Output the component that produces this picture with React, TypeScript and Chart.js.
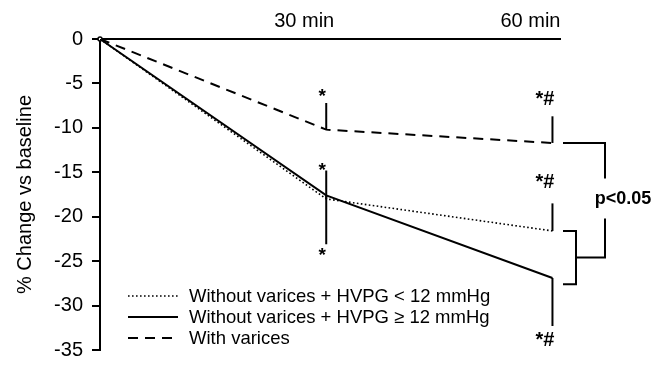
import { useEffect, useRef } from 'react';
import { Chart, registerables } from 'chart.js';

Chart.register(...registerables);

// ---- data ----
const timePoints = [0, 30, 60];
const xTickValues = [30, 60];
const xTickLabels = ['30 min', '60 min'];
const yTickMin = -35;
const yTickMax = 0;
const yTickStep = 5;

const seriesLabels = [
  'Without varices + HVPG < 12 mmHg',
  'Without varices + HVPG \u2265 12 mmHg',
  'With varices',
];
const dottedValues = [0, -18.0, -21.6];
const solidValues = [0, -17.6, -26.9];
const dashedValues = [0, -10.2, -11.7];

// one-sided error bars (up = toward 0, down = toward -35)
const dottedErrUp = [0, 3.2, 3.1];
const dottedErrDown = [0, 0, 0];
const solidErrUp = [0, 0, 0];
const solidErrDown = [0, 5.5, 5.4];
const dashedErrUp = [0, 3.0, 3.0];
const dashedErrDown = [0, 0, 0];

// significance marks: time, value, text
const markTimes = [30, 30, 30, 60, 60, 60];
const markValues = [-5.9, -14.25, -23.8, -6.7, -16.0, -33.8];
const markTexts = ['*', '*', '*', '*#', '*#', '*#'];

// comparison brackets (values)
const outerBracket = [-11.7, -15.7, -20.2, -24.6];
const innerBracket = [-21.6, -27.6];
const pText = 'p<0.05';
const pValue = -18.0;

const FONT = "'Liberation Sans', Arial, Helvetica, sans-serif";

const errUpBySeries = [dottedErrUp, solidErrUp, dashedErrUp];
const errDownBySeries = [dottedErrDown, solidErrDown, dashedErrDown];

const annotationPlugin = {
  id: 'annotations',
  afterDatasetsDraw(chart: any) {
    const ctx = chart.ctx as CanvasRenderingContext2D;
    const xs = chart.scales.x;
    const ys = chart.scales.y;
    ctx.save();
    ctx.strokeStyle = '#000';
    ctx.fillStyle = '#000';
    ctx.setLineDash([]);
    ctx.lineWidth = 2;

    // error bars
    chart.data.datasets.forEach((ds: any, si: number) => {
      ds.data.forEach((p: any, i: number) => {
        const up = errUpBySeries[si][i];
        const dn = errDownBySeries[si][i];
        const px = xs.getPixelForValue(p.x);
        if (up > 0) {
          ctx.beginPath();
          ctx.moveTo(px, ys.getPixelForValue(p.y));
          ctx.lineTo(px, ys.getPixelForValue(p.y + up));
          ctx.stroke();
        }
        if (dn > 0) {
          ctx.beginPath();
          ctx.moveTo(px, ys.getPixelForValue(p.y));
          ctx.lineTo(px, ys.getPixelForValue(p.y - dn));
          ctx.stroke();
        }
      });
    });

    // significance marks
    ctx.textBaseline = 'middle';
    markTexts.forEach((t, i) => {
      const px = xs.getPixelForValue(markTimes[i]);
      const py = ys.getPixelForValue(markValues[i]);
      if (t === '*') {
        ctx.font = `bold 19px ${FONT}`;
        ctx.textAlign = 'center';
        ctx.fillText(t, px - 4, py + 5);
      } else {
        ctx.font = `bold 20px ${FONT}`;
        ctx.textAlign = 'right';
        ctx.fillText(t, px + 2, py + 1);
      }
    });

    // brackets
    const right = chart.chartArea.right;
    const x0 = right + 3;
    const xInner = right + 16;
    const xOuter = right + 45;
    const yv = (v: number) => ys.getPixelForValue(v);
    ctx.lineWidth = 2;
    ctx.beginPath();
    ctx.moveTo(x0, yv(outerBracket[0]));
    ctx.lineTo(xOuter, yv(outerBracket[0]));
    ctx.lineTo(xOuter, yv(outerBracket[1]));
    ctx.moveTo(xOuter, yv(outerBracket[2]));
    ctx.lineTo(xOuter, yv(outerBracket[3]));
    ctx.lineTo(xInner, yv(outerBracket[3]));
    ctx.stroke();
    ctx.beginPath();
    ctx.moveTo(x0, yv(innerBracket[0]));
    ctx.lineTo(xInner, yv(innerBracket[0]));
    ctx.lineTo(xInner, yv(innerBracket[1]));
    ctx.lineTo(x0, yv(innerBracket[1]));
    ctx.stroke();

    ctx.font = `bold 18px ${FONT}`;
    ctx.textAlign = 'center';
    ctx.textBaseline = 'middle';
    ctx.fillText(pText, xOuter + 18, yv(pValue));

    // legend
    const rowsY = [296, 317, 338];
    const lx0 = 128;
    const lx1 = 178;
    ctx.font = `18.5px ${FONT}`;
    ctx.textAlign = 'left';
    ctx.textBaseline = 'middle';
    chart.data.datasets.forEach((ds: any, i: number) => {
      ctx.save();
      ctx.lineWidth = ds.borderWidth;
      ctx.setLineDash(ds.borderDash || []);
      ctx.beginPath();
      ctx.moveTo(lx0, rowsY[i]);
      ctx.lineTo(lx1, rowsY[i]);
      ctx.stroke();
      ctx.restore();
      ctx.fillText(ds.label, 189, rowsY[i] + 1);
    });

    ctx.restore();
  },
};

export default function App() {
  const canvasRef = useRef<HTMLCanvasElement | null>(null);

  useEffect(() => {
    document.body.style.margin = '0';
    const canvas = canvasRef.current;
    if (!canvas) return;
    Chart.defaults.font.family = FONT;
    Chart.defaults.color = '#000';

    const toPts = (vals: number[]) => vals.map((v, i) => ({ x: timePoints[i], y: v }));

    const chart = new Chart(canvas, {
      type: 'line',
      data: {
        datasets: [
          {
            label: seriesLabels[0],
            data: toPts(dottedValues),
            borderColor: '#000',
            borderWidth: 1.6,
            borderDash: [1.6, 2.4],
            pointRadius: 0,
            fill: false,
            tension: 0,
          },
          {
            label: seriesLabels[1],
            data: toPts(solidValues),
            borderColor: '#000',
            borderWidth: 2,
            pointRadius: [2, 0, 0],
            pointBackgroundColor: '#fff',
            pointBorderColor: '#000',
            pointBorderWidth: 1.5,
            fill: false,
            tension: 0,
            clip: false as any,
          },
          {
            label: seriesLabels[2],
            data: toPts(dashedValues),
            borderColor: '#000',
            borderWidth: 2,
            borderDash: [10, 7],
            pointRadius: 0,
            fill: false,
            tension: 0,
          },
        ],
      },
      options: {
        animation: false,
        responsive: false,
        events: [],
        layout: { padding: { left: 0, top: 0, right: 105, bottom: 13 } },
        plugins: {
          legend: { display: false },
          tooltip: { enabled: false },
          title: { display: false },
        },
        scales: {
          x: {
            type: 'linear',
            position: 'top',
            min: 0,
            max: 61,
            afterBuildTicks: (scale: any) => {
              scale.ticks = xTickValues.map((v) => ({ value: v }));
            },
            afterFit: (scale: any) => {
              scale.height = 39;
            },
            ticks: {
              callback: (v: any) => {
                const idx = xTickValues.indexOf(Number(v));
                return idx >= 0 ? xTickLabels[idx] : '';
              },
              align: 'end',
              labelOffset: 8,
              padding: 6,
              maxRotation: 0,
              autoSkip: false,
              font: { size: 20, family: FONT },
              color: '#000',
            },
            grid: { display: false, drawTicks: false },
            border: { display: true, color: '#000', width: 2 },
          },
          y: {
            type: 'linear',
            min: yTickMin,
            max: yTickMax,
            afterFit: (scale: any) => {
              scale.width = 100;
            },
            ticks: {
              stepSize: yTickStep,
              padding: 9,
              font: { size: 20, family: FONT },
              color: '#000',
            },
            grid: {
              display: true,
              drawOnChartArea: false,
              drawTicks: true,
              tickLength: 8,
              color: '#000',
              lineWidth: 2,
            },
            border: { display: true, color: '#000', width: 2 },
            title: {
              display: true,
              text: '% Change vs baseline',
              font: { size: 20, family: FONT },
              color: '#000',
              padding: { top: 13, bottom: 0 },
            },
          },
        },
      },
      plugins: [annotationPlugin],
    });

    return () => {
      chart.destroy();
    };
  }, []);

  return (
    <div style={{ width: 665, height: 371 }}>
      <canvas ref={canvasRef} width={665} height={371} style={{ display: 'block' }} />
    </div>
  );
}
